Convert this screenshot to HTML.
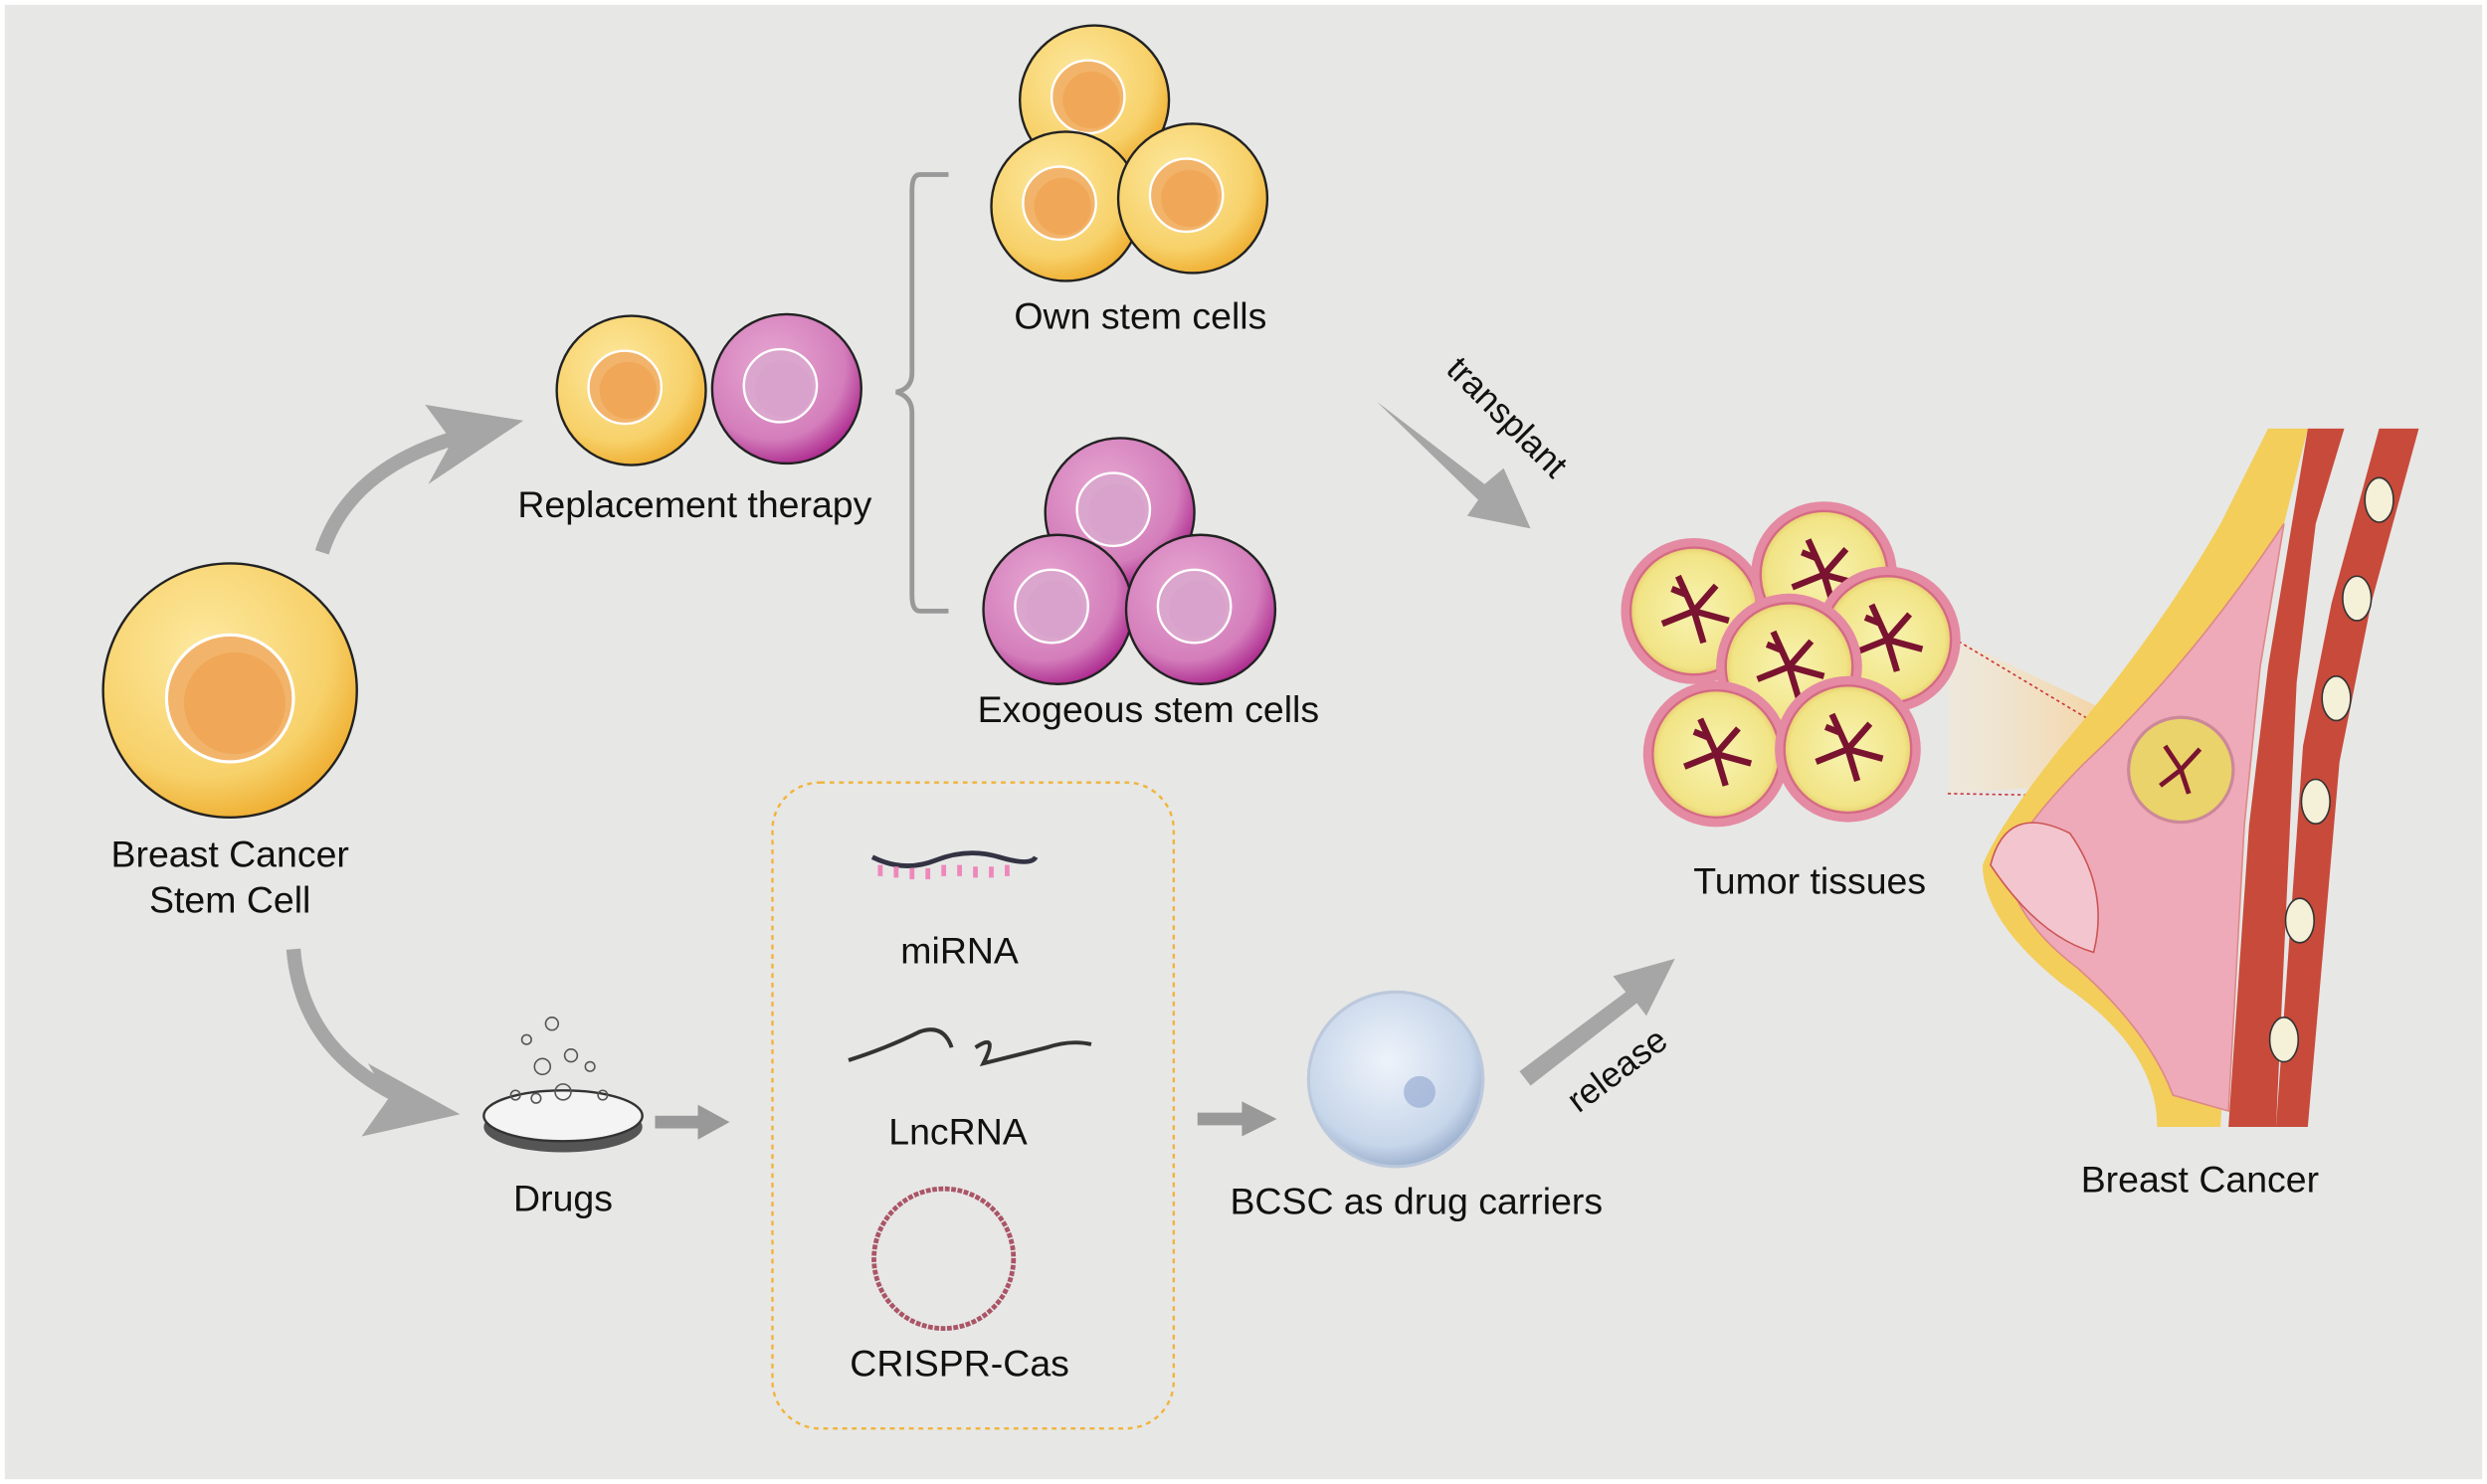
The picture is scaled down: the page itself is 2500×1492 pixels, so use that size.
<!DOCTYPE html>
<html><head><meta charset="utf-8"><style>
html,body{margin:0;padding:0;background:#fff}
svg{display:block}
text{font-family:"Liberation Sans",Arial,sans-serif;fill:#111}
</style></head><body>
<svg width="2500" height="1492" viewBox="0 0 1568 935" preserveAspectRatio="none" xmlns="http://www.w3.org/2000/svg">
<defs>
<radialGradient id="yc" cx="40%" cy="35%" r="70%"><stop offset="0" stop-color="#fde9a0"/><stop offset=".7" stop-color="#f7d16a"/><stop offset="1" stop-color="#eeaa2a"/></radialGradient>
<radialGradient id="pc" cx="40%" cy="35%" r="70%"><stop offset="0" stop-color="#e7a8d2"/><stop offset=".7" stop-color="#d47ebb"/><stop offset="1" stop-color="#a8208a"/></radialGradient>
<radialGradient id="bl" cx="45%" cy="40%" r="60%"><stop offset="0" stop-color="#eef3fa"/><stop offset=".8" stop-color="#c7d6ea"/><stop offset="1" stop-color="#9fb3d0"/></radialGradient>
<radialGradient id="tm" cx="50%" cy="50%" r="50%"><stop offset="0" stop-color="#f8f3b0"/><stop offset=".9" stop-color="#f1e486"/><stop offset="1" stop-color="#e8cf70"/></radialGradient>
<linearGradient id="cone" x1="0" x2="1"><stop offset="0" stop-color="#fbe9c4" stop-opacity=".3"/><stop offset="1" stop-color="#f5c27a"/></linearGradient>
<g id="ycell"><circle r="47" fill="url(#yc)" stroke="#222" stroke-width="1.5"/><circle cx="-4" cy="-2" r="23" fill="#f2b46a" stroke="#fff" stroke-width="1.5"/><circle cx="-2" cy="0" r="18" fill="#f0a858"/></g>
<g id="pcell"><circle r="47" fill="url(#pc)" stroke="#222" stroke-width="1.5"/><circle cx="-4" cy="-2" r="23" fill="#dba6cd" stroke="#fff" stroke-width="1.5"/><circle cx="-2" cy="0" r="18" fill="#d8a2cc"/></g>
<g id="tcell"><circle r="46" fill="#e58aa3"/><circle r="40" fill="url(#tm)" stroke="#d46a85" stroke-width="1.5"/><path d="M-10,-22 L0,0 L-20,8 M0,0 L14,-16 M0,0 L6,20 M0,0 L22,6 M-4,-10 L-14,-14" stroke="#7a1330" stroke-width="4" fill="none"/></g>
</defs>
<rect x="0" y="0" width="1568" height="935" fill="#fff"/>
<rect x="3" y="3" width="1562" height="929" fill="#e7e7e6"/>

<circle cx="145" cy="435" r="80" fill="url(#yc)" stroke="#222" stroke-width="1.5"/>
<circle cx="145" cy="440" r="40" fill="#f2b46a" stroke="#fff" stroke-width="2"/>
<circle cx="148" cy="443" r="32" fill="#f0a858"/>
<text x="145" y="546" font-size="23.5" text-anchor="middle">Breast Cancer</text>
<text x="145" y="575" font-size="23.5" text-anchor="middle">Stem Cell</text>

<path d="M203,348 Q220,295 290,275" stroke="#a6a6a6" stroke-width="9" fill="none"/>
<polygon points="330,265 268,255 285,278 270,305" fill="#a6a6a6"/>
<path d="M185,598 Q190,660 250,690" stroke="#a6a6a6" stroke-width="9" fill="none"/>
<polygon points="290,702 232,670 245,692 228,716" fill="#a6a6a6"/>

<use href="#ycell" x="398" y="246"/>
<use href="#pcell" x="496" y="245"/>
<text x="438" y="326" font-size="23.5" text-anchor="middle">Replacement therapy</text>
<path d="M598,110 L580,110 Q575,110 575,120 L575,235 Q575,245 565,247 Q575,250 575,260 L575,375 Q575,385 580,385 L598,385" stroke="#999" stroke-width="3" fill="none"/>

<use href="#ycell" x="690" y="63"/>
<use href="#ycell" x="672" y="130"/>
<use href="#ycell" x="752" y="125"/>
<text x="719" y="207" font-size="23.5" text-anchor="middle">Own stem cells</text>

<use href="#pcell" x="706" y="323"/>
<use href="#pcell" x="667" y="384"/>
<use href="#pcell" x="757" y="384"/>
<text x="724" y="455" font-size="23.5" text-anchor="middle">Exogeous stem cells</text>

<polygon points="868,253 936,305 948,295 965,333 925,325 932,315" fill="#a6a6a6"/>
<text x="945" y="268" font-size="22" text-anchor="middle" transform="rotate(45 945 268)">transplant</text>

<polygon points="1228,400 1228,500 1375,490 1375,470" fill="url(#cone)"/>
<line x1="1228" y1="400" x2="1345" y2="470" stroke="#c33" stroke-dasharray="2 2"/>
<line x1="1228" y1="500" x2="1345" y2="502" stroke="#c33" stroke-dasharray="2 2"/>

<path d="M1430,270 L1455,270 L1440,330 L1420,420 L1410,520 L1400,710 L1360,710 Q1360,660 1300,620 Q1250,580 1250,545 Q1260,520 1300,470 Q1360,400 1400,330 Z" fill="#f3ce5a"/>
<path d="M1440,330 L1425,420 L1415,520 L1405,700 L1370,690 Q1355,650 1310,610 Q1270,580 1265,545 Q1275,520 1315,480 Q1380,420 1440,330 Z" fill="#eeaab8" stroke="#d88" stroke-width="1"/>
<path d="M1255,545 Q1265,505 1305,525 Q1330,560 1320,600 Q1285,590 1255,545 Z" fill="#f3c5cf" stroke="#c55" stroke-width="1"/>
<path d="M1455,270 L1478,270 L1460,330 L1448,430 L1435,710 L1405,710 L1418,520 L1430,420 Z" fill="#c84a3a"/>
<path d="M1500,270 L1525,270 L1495,380 L1475,480 L1455,710 L1435,710 L1452,470 L1470,380 Z" fill="#c84a3a"/>
<g fill="#f5f0d8" stroke="#333" stroke-width="1">
<ellipse cx="1500" cy="315" rx="9" ry="14"/><ellipse cx="1486" cy="377" rx="9" ry="14"/><ellipse cx="1473" cy="440" rx="9" ry="14"/><ellipse cx="1460" cy="505" rx="9" ry="14"/><ellipse cx="1450" cy="580" rx="9" ry="14"/><ellipse cx="1440" cy="655" rx="9" ry="14"/>
</g>
<circle cx="1375" cy="485" r="33" fill="#e9d36a" stroke="#c89" stroke-width="2"/>
<path d="M1365,470 L1375,485 L1362,495 M1375,485 L1387,472 M1375,485 L1380,500" stroke="#7a1330" stroke-width="3" fill="none"/>
<text x="1387" y="751" font-size="23.5" text-anchor="middle">Breast Cancer</text>

<use href="#tcell" x="1068" y="385"/>
<use href="#tcell" x="1150" y="362"/>
<use href="#tcell" x="1190" y="403"/>
<use href="#tcell" x="1128" y="420"/>
<use href="#tcell" x="1082" y="475"/>
<use href="#tcell" x="1165" y="472"/>
<text x="1141" y="563" font-size="23.5" text-anchor="middle">Tumor tissues</text>

<ellipse cx="355" cy="710" rx="50" ry="16" fill="#555"/>
<ellipse cx="355" cy="703" rx="50" ry="16" fill="#f4f4f4" stroke="#333" stroke-width="1.5"/>
<g fill="none" stroke="#555" stroke-width="1"><circle cx="348" cy="645" r="4"/><circle cx="332" cy="655" r="3"/><circle cx="360" cy="665" r="4"/><circle cx="342" cy="672" r="5"/><circle cx="372" cy="672" r="3"/><circle cx="325" cy="690" r="3"/><circle cx="355" cy="688" r="5"/><circle cx="380" cy="690" r="3"/><circle cx="338" cy="692" r="3"/></g>
<text x="355" y="763" font-size="23.5" text-anchor="middle">Drugs</text>
<polygon points="413,703 440,703 440,696 460,707 440,718 440,711 413,711" fill="#999"/>

<rect x="487" y="493" width="253" height="407" rx="30" fill="none" stroke="#f0b43a" stroke-width="1.5" stroke-dasharray="3 3"/>
<path d="M550,540 Q570,550 590,542 T630,540 T653,540" stroke="#334" stroke-width="3" fill="none"/>
<path d="M555,545 L555,552 M565,546 L565,553 M575,547 L575,554 M585,547 L585,554 M595,545 L595,552 M605,545 L605,552 M615,546 L615,553 M625,546 L625,553 M635,545 L635,552" stroke="#e8b" stroke-width="3"/>
<text x="605" y="607" font-size="23.5" text-anchor="middle">miRNA</text>
<path d="M535,668 Q560,660 580,650 Q595,645 600,660 M615,660 Q630,650 620,670 Q640,665 660,660 Q675,655 688,658" stroke="#333" stroke-width="2.5" fill="none"/>
<text x="604" y="721" font-size="23.5" text-anchor="middle">LncRNA</text>
<circle cx="595" cy="793" r="44" fill="none" stroke="#a56" stroke-width="3" stroke-dasharray="3 1"/>
<text x="605" y="867" font-size="23.5" text-anchor="middle">CRISPR-Cas</text>

<polygon points="755,701 783,701 783,694 805,705 783,716 783,709 755,709" fill="#999"/>
<circle cx="880" cy="680" r="55" fill="url(#bl)" stroke="#bcc9dc" stroke-width="2"/>
<circle cx="895" cy="688" r="10" fill="#8ea3cf" opacity=".6"/>
<text x="893" y="765" font-size="23.5" text-anchor="middle">BCSC as drug carriers</text>
<polygon points="958,675 1025,625 1017,615 1056,604 1038,640 1032,632 965,684" fill="#a6a6a6"/>
<text x="1024" y="680" font-size="22" text-anchor="middle" transform="rotate(-37 1024 680)">release</text>
</svg>
</body></html>
